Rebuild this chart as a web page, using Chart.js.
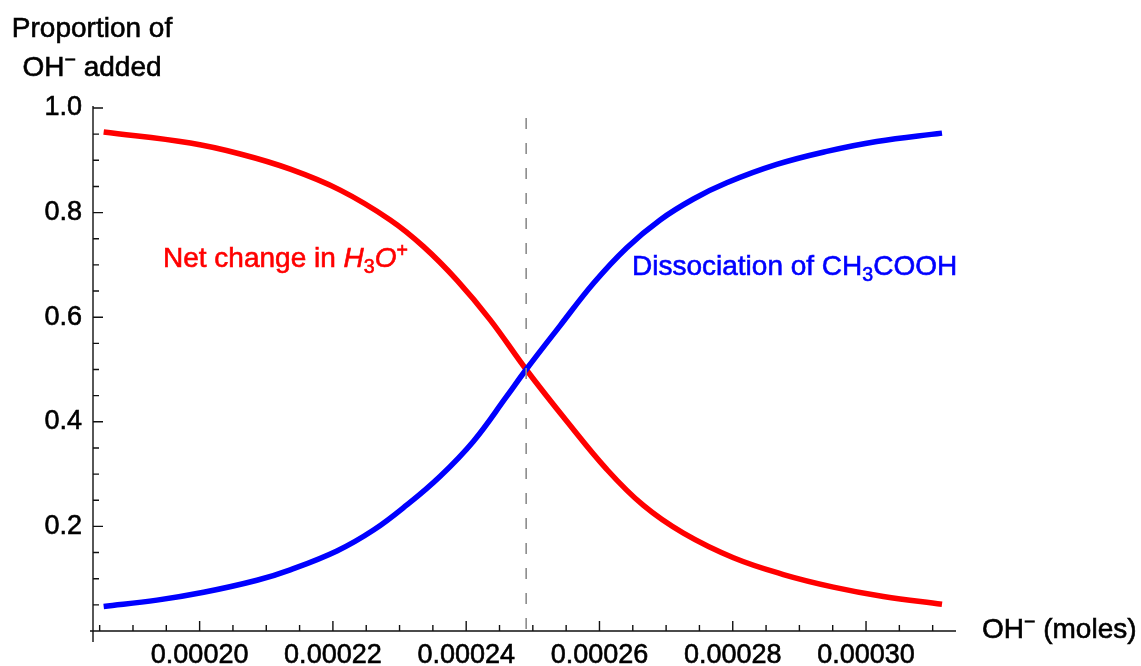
<!DOCTYPE html>
<html lang="en">
<head>
<meta charset="UTF-8">
<title>Proportion of OH- added</title>
<style>
  html, body { margin: 0; padding: 0; background: #fff; }
  #wrap { width: 1141px; height: 666px; }
</style>
</head>
<body>
<div id="wrap"><canvas id="chart" width="1141" height="666"></canvas></div>

<script src="https://cdn.jsdelivr.net/npm/chart.js@4.4.0/dist/chart.umd.min.js"></script>
<script>
// values
var h3oX = [0.0001856, 0.0001986, 0.0002061, 0.0002136, 0.0002211, 0.0002286, 0.0002336,
            0.0002386, 0.0002436, 0.0002490, 0.0002551, 0.0002611, 0.0002666, 0.0002726,
            0.0002801, 0.0002876, 0.0002951, 0.0003026, 0.0003114];
var h3oY = [0.954, 0.933, 0.912, 0.883, 0.843, 0.786, 0.735,
            0.671, 0.595, 0.500, 0.401, 0.309, 0.240, 0.187,
            0.140, 0.108, 0.084, 0.066, 0.051];

var acidX = [0.0001856, 0.0001936, 0.0002006, 0.0002086, 0.0002136, 0.0002206, 0.0002261,
             0.0002311, 0.0002361, 0.0002411, 0.0002461, 0.0002490, 0.0002541, 0.0002591,
             0.0002641, 0.0002691, 0.0002741, 0.0002791, 0.0002866, 0.0002941, 0.0003016,
             0.0003114];
var acidY = [0.047, 0.059, 0.074, 0.097, 0.117, 0.153, 0.193,
             0.241, 0.296, 0.363, 0.449, 0.500, 0.584, 0.665,
             0.733, 0.786, 0.826, 0.857, 0.892, 0.917, 0.936,
             0.952];

var equivX = 0.000249;      // dashed line
var equivTop = 0.981;

var xTicks = [0.00020, 0.00022, 0.00024, 0.00026, 0.00028, 0.00030];
var xMinor = [0.000185, 0.000190, 0.000195, 0.000205, 0.000210, 0.000215, 0.000225,
              0.000230, 0.000235, 0.000245, 0.000250, 0.000255, 0.000265, 0.000270,
              0.000275, 0.000285, 0.000290, 0.000295, 0.000305, 0.000310];
var yTicks = [0.2, 0.4, 0.6, 0.8, 1.0];
var yMinor = [0.05, 0.1, 0.15, 0.25, 0.3, 0.35, 0.45, 0.5, 0.55, 0.65, 0.7, 0.75, 0.85, 0.9, 0.95];

var FONT = '"Liberation Sans", Arial, Helvetica, sans-serif';

function toPoints(xs, ys) {
    return xs.map(function (x, i) { return { x: x, y: ys[i] }; });
}

// draws text made of pieces: {t, it, sub, sup}
function drawRich(ctx, parts, x, y, size, color, align) {
    var widths = [], total = 0;
    parts.forEach(function (p) {
        var s = (p.sub || p.sup) ? size * 0.7 : size;
        ctx.font = (p.it ? 'italic ' : '') + s + 'px ' + FONT;
        var w = ctx.measureText(p.t).width;
        widths.push(w);
        total += w;
    });
    var cx = align === 'center' ? x - total / 2 : x;
    ctx.fillStyle = color;
    ctx.strokeStyle = color;
    ctx.lineWidth = 0.6;
    ctx.textAlign = 'left';
    ctx.textBaseline = 'alphabetic';
    parts.forEach(function (p, i) {
        var s = (p.sub || p.sup) ? size * 0.7 : size;
        var dy = p.sub ? size * 0.22 : (p.sup ? -size * 0.36 : 0);
        ctx.font = (p.it ? 'italic ' : '') + s + 'px ' + FONT;
        ctx.fillText(p.t, cx, y + dy);
        ctx.strokeText(p.t, cx, y + dy);
        cx += widths[i];
    });
}

var axesPlugin = {
    id: 'mathAxes',
    afterDraw: function (chart) {
        var ctx = chart.ctx, xs = chart.scales.x, ys = chart.scales.y;
        var a = chart.chartArea;
        var y0 = ys.getPixelForValue(0);
        ctx.save();
        ctx.strokeStyle = '#111';
        ctx.lineWidth = 1.4;
        ctx.beginPath();
        ctx.moveTo(a.left - 3, y0); ctx.lineTo(a.right, y0);
        ctx.moveTo(a.left, a.top - 2); ctx.lineTo(a.left, y0 + 11);
        ctx.stroke();

        ctx.beginPath();
        xTicks.forEach(function (v) { var p = xs.getPixelForValue(v); ctx.moveTo(p, y0); ctx.lineTo(p, y0 - 10); });
        xMinor.forEach(function (v) { var p = xs.getPixelForValue(v); ctx.moveTo(p, y0); ctx.lineTo(p, y0 - 6); });
        yTicks.forEach(function (v) { var p = ys.getPixelForValue(v); ctx.moveTo(a.left, p); ctx.lineTo(a.left + 10, p); });
        yMinor.forEach(function (v) { var p = ys.getPixelForValue(v); ctx.moveTo(a.left, p); ctx.lineTo(a.left + 6, p); });
        ctx.stroke();

        drawRich(ctx, [{ t: 'Proportion of' }], 92, 37, 28, '#000', 'center');
        drawRich(ctx, [{ t: 'OH' }, { t: '\u2212', sup: true }, { t: ' added' }], 92, 76, 28, '#000', 'center');
        drawRich(ctx, [{ t: 'OH' }, { t: '\u2212', sup: true }, { t: ' (moles)' }], 982, 638, 28, '#000', 'left');

        drawRich(ctx, [{ t: 'Net change in ' }, { t: 'H', it: true }, { t: '3', sub: true },
                       { t: 'O', it: true }, { t: '+', sup: true }], 163, 267, 28, '#ff0000', 'left');
        drawRich(ctx, [{ t: 'Dissociation of CH' }, { t: '3', sub: true }, { t: 'COOH' }],
                 632, 275, 28, '#0000ff', 'left');
        ctx.restore();
    }
};

var ctx = document.getElementById('chart').getContext('2d');
var chart = new Chart(ctx, {
    type: 'line',
    data: {
        datasets: [
            {
                label: 'equivalence',
                data: [{ x: equivX, y: equivTop }, { x: equivX, y: 0 }],
                borderColor: '#8c8c8c',
                borderWidth: 1.6,
                borderDash: [11, 14],
                pointRadius: 0
            },
            {
                label: 'Dissociation of CH3COOH',
                data: toPoints(acidX, acidY),
                borderColor: '#0000ff',
                borderWidth: 5.5,
                pointRadius: 0,
                tension: 0.4
            },
            {
                label: 'Net change in H3O+',
                data: toPoints(h3oX, h3oY),
                borderColor: '#ff0000',
                borderWidth: 5.5,
                pointRadius: 0,
                tension: 0.4
            }
        ]
    },
    options: {
        responsive: false,
        animation: false,
        layout: { padding: { left: 0, top: 108, right: 185, bottom: 0 } },
        plugins: { legend: { display: false }, tooltip: { enabled: false } },
        scales: {
            x: {
                type: 'linear',
                min: 0.000184,
                max: 0.0003135,
                grid: { display: false, drawTicks: false },
                border: { display: false },
                afterBuildTicks: function (scale) {
                    scale.ticks = xTicks.map(function (v) { return { value: v }; });
                },
                afterFit: function (scale) { scale.height = 35; },
                ticks: {
                    padding: 8,
                    maxRotation: 0,
                    autoSkip: false,
                    color: '#000',
                    textStrokeColor: '#000',
                    textStrokeWidth: 0.6,
                    font: { family: FONT, size: 27 },
                    callback: function (v) { return v.toFixed(5); }
                }
            },
            y: {
                min: 0,
                max: 1,
                grid: { display: false, drawTicks: false },
                border: { display: false },
                afterBuildTicks: function (scale) {
                    scale.ticks = yTicks.map(function (v) { return { value: v }; });
                },
                afterFit: function (scale) { scale.width = 93; },
                ticks: {
                    padding: 11,
                    color: '#000',
                    textStrokeColor: '#000',
                    textStrokeWidth: 0.6,
                    font: { family: FONT, size: 27 },
                    callback: function (v) { return v.toFixed(1); }
                }
            }
        }
    },
    plugins: [axesPlugin]
});
</script>
</body>
</html>
